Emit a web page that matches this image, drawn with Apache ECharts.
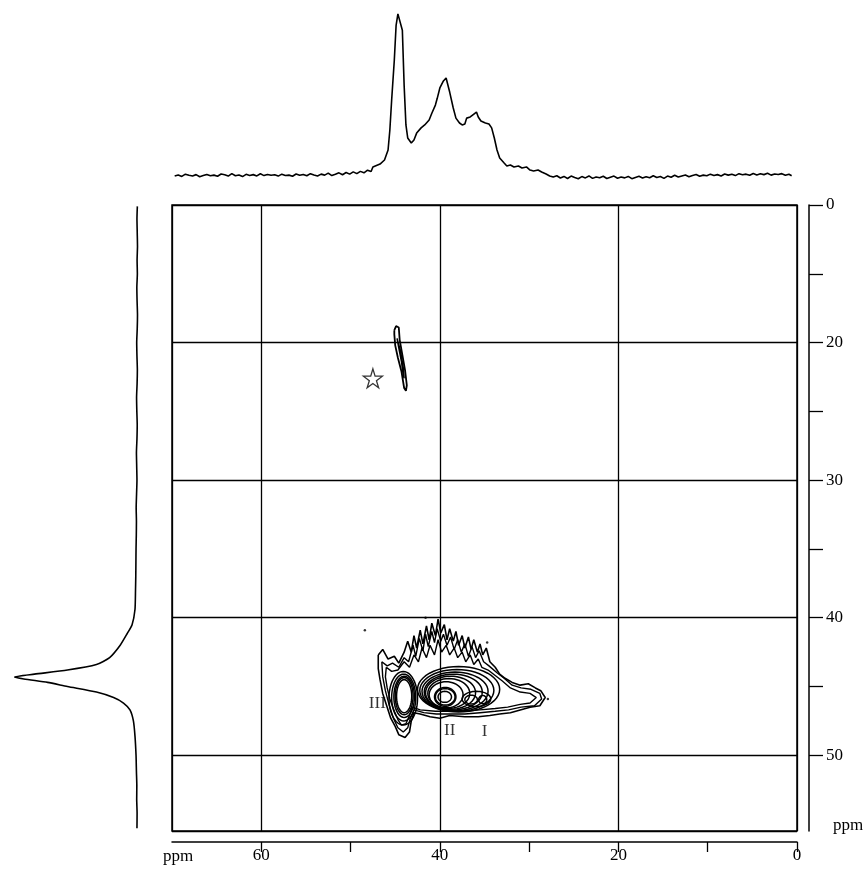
<!DOCTYPE html>
<html>
<head>
<meta charset="utf-8">
<script src="https://cdn.jsdelivr.net/npm/echarts@6/dist/echarts.min.js"></script>
<style>
  html, body { margin: 0; padding: 0; background: #fff; }
  #chart { width: 864px; height: 871px; }
</style>
</head>
<body>
<div id="chart"></div>
<script>
// F2 (horizontal) projection: [ppm, intensity]
const topTrace = [
  [69.7,2.4],[69.3,3.1],[68.9,2.2],[68.5,3.6],[68.1,2.9],[67.7,2.5],[67.3,3.3],[66.9,2.0],[66.5,2.7],[66.1,3.4],
  [65.7,2.6],[65.3,3.0],[64.9,2.3],[64.5,3.7],[64.1,3.2],[63.7,2.4],[63.3,3.9],[62.9,2.6],[62.5,3.1],[62.1,2.1],
  [61.7,3.5],[61.3,2.8],[60.9,3.3],[60.5,2.5],[60.1,3.8],[59.7,2.7],[59.3,3.4],[58.9,2.9],[58.5,3.2],[58.1,2.4],
  [57.7,3.6],[57.3,2.8],[56.9,3.0],[56.5,2.3],[56.1,3.7],[55.7,2.9],[55.3,3.4],[54.9,2.6],[54.5,3.9],[54.1,3.1],
  [53.7,2.5],[53.3,3.6],[52.9,3.0],[52.5,4.2],[52.1,2.7],[51.7,3.5],[51.3,4.4],[50.9,3.2],[50.5,4.6],[50.1,3.6],
  [49.7,5.0],[49.3,3.9],[48.9,5.3],[48.5,4.4],[48.1,6.0],[47.7,5.2],[47.5,8.0],[46.7,9.8],[46.2,12.3],[45.8,18.4],
  [45.6,30.7],[45.4,49],[45.1,73.7],[44.9,95],[44.7,102],[44.5,102],[44.2,92],[44.0,58],[43.8,33.8],[43.6,25.8],
  [43.2,22.7],[42.9,24.6],[42.6,28.8],[42.1,32],[41.7,33.8],[41.2,36.8],[40.9,41],[40.5,46],[40.3,50],[40.0,56.5],
  [39.6,60.8],[39.3,62.6],[39.1,61.4],[38.9,54],[38.5,44.2],[38.2,38],[37.8,35],[37.5,33.8],[37.2,34.4],[37.0,38],
  [36.6,38.7],[36.3,40],[35.9,41.7],[35.7,38.7],[35.4,36.2],[34.9,35],[34.5,34.4],[34.2,32],[33.9,25.8],[33.6,18.4],
  [33.3,13.5],[32.8,10.4],[32.5,8.6],[32.1,9.2],[31.7,8.0],[31.2,8.6],[30.8,7.4],[30.3,8.0],[29.9,6.1],[29.5,5.5],
  [29.0,6.1],[28.6,4.9],[28.1,3.7],[27.7,2.5],[27.3,1.8],[26.9,2.6],[26.5,1.2],[26.1,2.2],[25.7,0.9],[25.3,2.4],
  [24.9,1.5],[24.5,0.8],[24.1,2.1],[23.7,1.3],[23.3,2.5],[22.9,1.0],[22.5,1.9],[22.1,1.4],[21.7,2.3],[21.3,0.9],
  [20.9,1.7],[20.5,2.4],[20.1,1.1],[19.7,1.8],[19.3,1.3],[18.9,2.2],[18.5,0.8],[18.1,1.6],[17.7,2.3],[17.3,1.2],
  [16.9,2.0],[16.5,1.4],[16.1,2.6],[15.7,1.5],[15.3,2.1],[14.9,1.0],[14.5,2.4],[14.1,1.7],[13.7,2.9],[13.3,1.9],
  [12.9,2.5],[12.5,3.1],[12.1,2.0],[11.7,2.8],[11.3,3.4],[10.9,2.3],[10.5,3.0],[10.1,2.6],[9.7,3.6],[9.3,2.8],
  [8.9,3.3],[8.5,2.5],[8.1,3.7],[7.7,3.0],[7.3,3.5],[6.9,2.7],[6.5,3.9],[6.1,3.2],[5.7,3.6],[5.3,2.9],
  [4.9,4.0],[4.5,3.1],[4.1,3.8],[3.7,3.3],[3.3,4.1],[2.9,3.0],[2.5,3.7],[2.1,3.4],[1.7,3.9],[1.3,2.9],
  [0.9,3.5],[0.6,2.6]
];

// F1 (vertical) projection: [ppm, intensity]
const leftTrace = [
  [10.1,2.0],[11,2.3],[12,2.1],[13,1.9],[14,2.2],[15,2.0],[16,2.4],[17,2.2],[18,1.9],[19,2.1],
  [20,2.5],[21,2.3],[22,2.0],[23,2.2],[24,2.6],[25,2.4],[26,2.1],[27,2.3],[28,2.7],[29,2.5],
  [30,2.3],[31,2.6],[32,2.9],[33,2.7],[34,2.8],[35,3.0],[36,3.1],[37,3.2],[38,3.4],[39.4,3.8],
  [40.5,6.0],[41.2,10],[42.0,15],[42.9,23],[43.4,33],[43.8,55],[44.1,80],[44.3,95],[44.45,88],[44.7,70],
  [45.0,55],[45.4,33],[45.8,20],[46.2,12.5],[46.7,7.6],[47.5,5.0],[48.6,3.8],[50.0,3.0],[51.2,2.7],[52.2,2.4],
  [53.2,2.5],[54.2,2.2],[55.3,2.3]
];

// Cross-peak contours drawn as closed outlines: [F2 ppm, F1 ppm]
const clusterOuter = [
  [46.9,42.7],[46.4,42.3],[45.8,43.0],[45.1,42.8],[44.6,43.3],[44.0,42.5],[43.6,41.7],[43.2,42.5],[42.9,41.3],[42.6,42.2],
  [42.2,40.9],[41.9,41.9],[41.5,40.6],[41.2,41.6],[40.9,40.4],[40.5,41.3],[40.2,40.1],[39.9,41.1],[39.5,40.5],[39.2,41.6],
  [38.9,40.8],[38.5,41.7],[38.2,41.0],[37.9,42.0],[37.5,41.3],[37.2,42.2],[36.8,41.4],[36.5,42.3],[36.2,41.6],[35.8,42.5],
  [35.5,41.9],[35.2,42.7],[34.8,42.2],[34.4,43.2],[33.8,43.6],[33.3,44.1],[32.7,44.4],[31.9,44.7],[31.0,44.9],[30.1,44.8],
  [29.3,45.1],[28.7,45.3],[28.2,45.8],[28.8,46.4],[29.9,46.5],[31.0,46.7],[32.1,46.9],[33.3,47.0],[34.4,47.1],[35.7,47.2],
  [37.2,47.2],[38.9,47.1],[40.0,47.3],[41.1,47.2],[42.2,47.0],[42.9,46.9],[43.2,47.5],[43.4,48.3],[43.9,48.7],[44.6,48.5],
  [45.0,47.9],[45.5,47.3],[45.9,46.5],[46.4,45.5],[46.7,44.5],[46.9,43.7],[46.9,42.7]
];
const clusterMid = [
  [46.5,43.2],[45.9,43.5],[45.3,43.3],[44.6,43.6],[44.0,42.9],[43.5,43.2],[43.0,42.0],[42.7,42.8],[42.3,41.5],[41.9,42.4],
  [41.6,41.2],[41.3,42.1],[40.9,41.0],[40.6,41.8],[40.3,40.8],[39.9,41.7],[39.6,41.2],[39.2,42.0],[38.8,41.4],[38.4,42.3],
  [38.0,41.6],[37.6,42.5],[37.2,41.9],[36.8,42.8],[36.4,42.1],[36.0,42.9],[35.6,42.4],[35.1,43.2],[34.5,43.5],[33.6,44.0],
  [32.8,44.4],[31.9,44.9],[30.9,45.1],[29.8,45.2],[28.8,45.5],[28.6,45.9],[29.4,46.4],[30.9,46.5],[32.3,46.7],[33.8,46.8],
  [35.5,46.9],[37.2,47.0],[38.9,47.0],[40.4,47.0],[41.8,46.9],[42.9,46.7],[43.3,47.3],[43.6,48.0],[44.1,48.3],[44.7,48.0],
  [45.2,47.3],[45.7,46.3],[46.1,45.3],[46.4,44.3],[46.5,43.2]
];
const clusterInner = [
  [46.0,43.6],[45.4,43.9],[44.7,43.8],[44.0,43.2],[43.4,43.6],[42.9,42.7],[42.4,43.2],[42.0,42.2],[41.5,42.9],[41.1,42.0],
  [40.6,42.7],[40.2,41.6],[39.8,42.5],[39.3,42.0],[38.9,42.7],[38.4,42.2],[38.0,42.9],[37.5,42.5],[37.1,43.2],[36.6,42.7],
  [36.2,43.4],[35.7,43.0],[35.3,43.6],[34.6,43.8],[33.8,44.2],[33.0,44.6],[32.1,45.1],[31.0,45.4],[29.9,45.5],[29.2,45.8],
  [29.9,46.2],[31.0,46.3],[32.4,46.5],[33.8,46.6],[35.5,46.7],[37.2,46.8],[38.9,46.8],[40.5,46.8],[42.2,46.7],[43.1,46.5],
  [43.4,47.1],[43.8,47.7],[44.3,47.8],[44.7,47.4],[45.1,46.8],[45.6,45.9],[45.9,45.1],[46.1,44.3],[46.0,43.6]
];
const minorOuter = [
  [45.1,19.1],[44.9,18.8],[44.6,18.9],[44.5,19.8],[44.2,20.9],[43.9,22.0],[43.7,23.1],[43.8,23.5],[44.0,23.3],[44.3,22.1],
  [44.7,21.1],[45.0,20.2],[45.1,19.4],[45.1,19.1]
];
const minorInner = [
  [44.8,19.7],[44.6,19.6],[44.4,20.6],[44.1,21.8],[44.0,22.6],[44.1,22.4],[44.3,21.4],[44.6,20.4],[44.8,19.7]
];

// Elliptical contour levels: [F2 centre, F1 centre, F2 half-width, F1 half-width]
const peakContours = [
  // III
  [44.0,45.7,0.85,1.2],[44.0,45.7,1.0,1.35],[44.0,45.75,1.15,1.5],[44.05,45.8,1.35,1.7],[44.1,45.85,1.6,1.95],
  // II
  [39.45,45.75,0.75,0.4],[39.4,45.75,1.1,0.6],[39.4,45.75,1.2,0.68],[39.3,45.6,1.9,0.95],[39.0,45.5,2.35,1.08],
  [38.8,45.45,2.8,1.2],[38.5,45.4,3.25,1.3],[38.3,45.35,3.7,1.4],[38.1,45.28,4.15,1.52],[37.9,45.2,4.6,1.65],
  // I
  [36.5,45.95,0.7,0.32],[35.2,45.95,0.45,0.3],[35.9,45.9,1.6,0.55]
];

// Isolated noise specks
const specks = [[48.4,40.9],[34.7,41.8],[27.9,45.9],[41.6,40.0]];

// Peak assignment labels and the starred signal
const peakLabels = [
  { name: 'III', value: [47.0,46.2] },
  { name: 'II',  value: [38.9,48.2] },
  { name: 'I',   value: [35.0,48.3] }
];
const starPos = [[47.5,22.6]];

// Axis ticks
const f2TickValues = [60,50,40,30,20,10,0];
const f2LabelValues = [60,40,20,0];
const f1TickValues = [10,15,20,25,30,35,40,45,50];
const f1LabelValues = [10,20,30,40,50];
const f1LabelTexts = ['0','20','30','40','50'];

const FONT = 'Liberation Serif';
const BLACK = '#000';

function contourLine(data, width) {
  return {
    type: 'line', xAxisIndex: 0, yAxisIndex: 0, data: data,
    symbol: 'none', silent: true,
    lineStyle: { color: BLACK, width: width || 1.5 }, z: 5
  };
}

const chart = echarts.init(document.getElementById('chart'), null, { renderer: 'canvas' });

chart.setOption({
  animation: false,
  backgroundColor: '#fff',
  textStyle: { fontFamily: FONT, color: BLACK },
  grid: [
    { left: 172, top: 205, width: 625, height: 626, show: true, borderColor: BLACK, borderWidth: 1.5, backgroundColor: 'transparent' },
    { left: 172, top: 9, width: 625, height: 171 },
    { left: 8, top: 205, width: 132, height: 626 }
  ],
  xAxis: [
    { gridIndex: 0, type: 'value', min: 0, max: 70, inverse: true, interval: 20,
      axisLine: { show: false }, axisTick: { show: false }, axisLabel: { show: false },
      splitLine: { show: true, lineStyle: { color: BLACK, width: 1.3 } } },
    { gridIndex: 0, type: 'value', min: 0, max: 70, inverse: true, position: 'bottom', offset: 11,
      axisLine: { show: true, onZero: false, lineStyle: { color: BLACK, width: 1.5 } },
      axisTick: { show: true, inside: false, length: 10, customValues: f2TickValues, lineStyle: { color: BLACK, width: 1.3 } },
      axisLabel: { show: true, customValues: f2LabelValues, margin: 5, color: BLACK, fontFamily: FONT, fontSize: 17 },
      splitLine: { show: false } },
    { gridIndex: 1, type: 'value', min: 0, max: 70, inverse: true, show: false },
    { gridIndex: 2, type: 'value', min: 0, max: 100, inverse: true, show: false }
  ],
  yAxis: [
    { gridIndex: 0, type: 'value', min: 10, max: 55.5, inverse: true, interval: 10,
      axisLine: { show: false }, axisTick: { show: false }, axisLabel: { show: false },
      splitLine: { show: true, lineStyle: { color: BLACK, width: 1.3 } } },
    { gridIndex: 0, type: 'value', min: 10, max: 55.5, inverse: true, position: 'right', offset: 12,
      axisLine: { show: true, onZero: false, lineStyle: { color: BLACK, width: 1.5 } },
      axisTick: { show: true, inside: false, length: 14, customValues: f1TickValues, lineStyle: { color: BLACK, width: 1.3 } },
      axisLabel: { show: true, customValues: f1LabelValues, margin: 17, color: BLACK, fontFamily: FONT, fontSize: 17,
        formatter: function (v) { const i = f1LabelValues.indexOf(v); return i >= 0 ? f1LabelTexts[i] : ''; } },
      splitLine: { show: false } },
    { gridIndex: 1, type: 'value', min: 0, max: 105, show: false },
    { gridIndex: 2, type: 'value', min: 10, max: 55.5, inverse: true, show: false }
  ],
  graphic: [
    { type: 'text', left: 163, top: 848, style: { text: 'ppm', font: '17px "Liberation Serif"', fill: BLACK } },
    { type: 'text', left: 833, top: 817, style: { text: 'ppm', font: '17px "Liberation Serif"', fill: BLACK } }
  ],
  series: [
    { type: 'line', xAxisIndex: 2, yAxisIndex: 2, data: topTrace, symbol: 'none', silent: true,
      lineStyle: { color: BLACK, width: 1.6 } },
    { type: 'line', xAxisIndex: 3, yAxisIndex: 3, data: leftTrace.map(p => [p[1], p[0]]), symbol: 'none', silent: true,
      smooth: 0.2, lineStyle: { color: BLACK, width: 1.6 } },
    contourLine(clusterOuter, 1.6),
    contourLine(clusterMid, 1.4),
    contourLine(clusterInner, 1.4),
    contourLine(minorOuter, 1.8),
    contourLine(minorInner, 1.4),
    {
      type: 'custom', xAxisIndex: 0, yAxisIndex: 0, data: peakContours, silent: true, z: 6,
      renderItem: function (params, api) {
        const c = api.coord([api.value(0), api.value(1)]);
        const s = api.size([api.value(2), api.value(3)]);
        const rx = Math.abs(s[0]), ry = Math.abs(s[1]);
        const pts = [];
        for (let k = 0; k < 48; k++) {
          const t = k / 48 * Math.PI * 2;
          pts.push([c[0] + rx * Math.cos(t), c[1] + ry * Math.sin(t)]);
        }
        return { type: 'polygon', shape: { points: pts }, style: { fill: 'none', stroke: BLACK, lineWidth: 1.5 } };
      }
    },
    { type: 'scatter', xAxisIndex: 0, yAxisIndex: 0, data: specks, symbol: 'circle', symbolSize: 2.5,
      itemStyle: { color: BLACK }, silent: true, z: 6 },
    { type: 'scatter', xAxisIndex: 0, yAxisIndex: 0, data: starPos, silent: true, z: 6,
      symbol: 'path://M50,0 L61,35 L98,35 L68,57 L79,91 L50,70 L21,91 L32,57 L2,35 L39,35 Z',
      symbolSize: 19, itemStyle: { color: '#fff', borderColor: BLACK, borderWidth: 1.3 } },
    { type: 'scatter', xAxisIndex: 0, yAxisIndex: 0, data: peakLabels, silent: true, z: 7,
      symbolSize: 1, itemStyle: { color: 'rgba(0,0,0,0)' },
      label: { show: true, position: 'inside', formatter: '{b}', color: BLACK, fontFamily: FONT, fontSize: 17 } }
  ]
});
</script>
</body>
</html>
